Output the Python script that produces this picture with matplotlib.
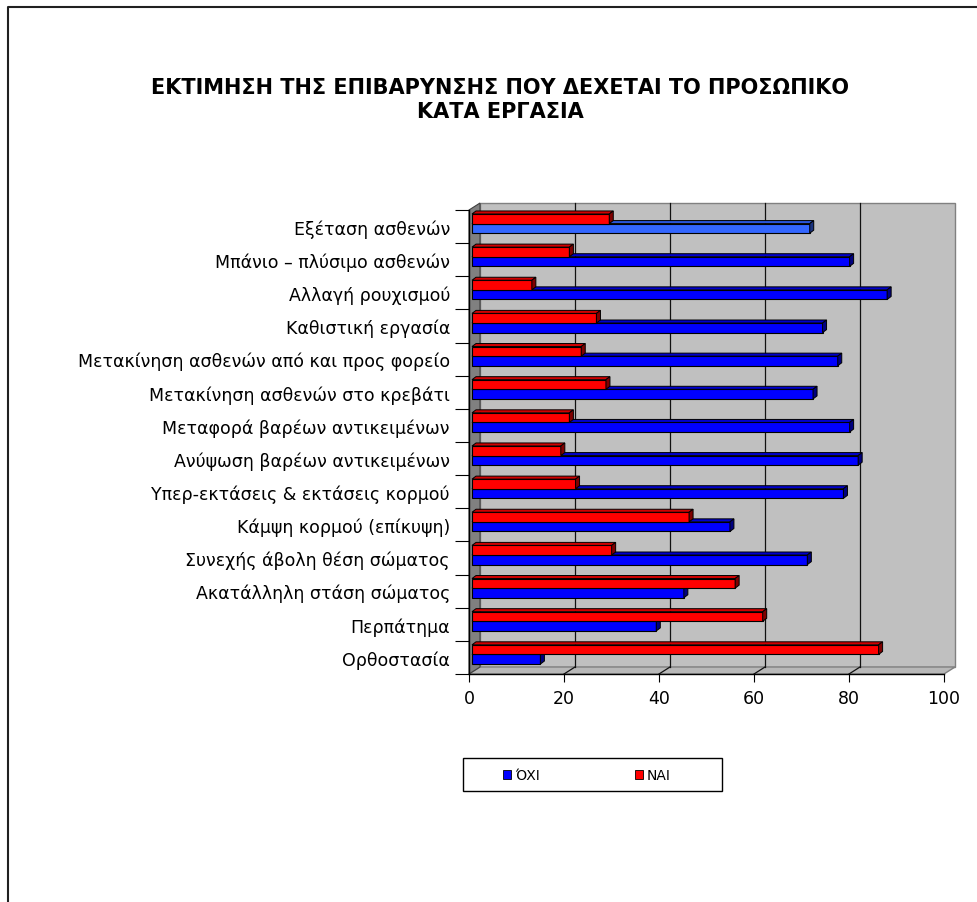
import numpy as np
import matplotlib.pyplot as plt
import matplotlib.patches as mpatches
import matplotlib.transforms as mtransforms
from matplotlib.lines import Line2D

# ---- data ----
categories = [
    "Εξέταση ασθενών",
    "Μπάνιο – πλύσιμο ασθενών",
    "Αλλαγή ρουχισμού",
    "Καθιστική εργασία",
    "Μετακίνηση ασθενών από και προς φορείο",
    "Μετακίνηση ασθενών στο κρεβάτι",
    "Μεταφορά βαρέων αντικειμένων",
    "Ανύψωση βαρέων αντικειμένων",
    "Υπερ-εκτάσεις & εκτάσεις κορμού",
    "Κάμψη κορμού (επίκυψη)",
    "Συνεχής άβολη θέση σώματος",
    "Ακατάλληλη στάση σώματος",
    "Περπάτημα",
    "Ορθοστασία",
]
oxi = [71.1, 79.5, 87.4, 73.8, 77.0, 71.8, 79.5, 81.3, 78.2, 54.3, 70.6, 44.6, 38.8, 14.4]
nai = [28.9, 20.5, 12.6, 26.2, 23.0, 28.2, 20.5, 18.7, 21.8, 45.7, 29.4, 55.4, 61.2, 85.6]
series_names = ["ΌΧΙ", "ΝΑΙ"]
x_ticks = [0, 20, 40, 60, 80, 100]

plt.rcParams['font.family'] = ['DejaVu Sans']

W, H = 977, 903
fig = plt.figure(figsize=(W / 100, H / 100), dpi=100)

# front plane of the pseudo-3D plot area, in pixels
ax_l, ax_r, ax_t, ax_b = 469, 944, 211, 675
ax = fig.add_axes([ax_l / W, 1 - ax_b / H, (ax_r - ax_l) / W, (ax_b - ax_t) / H])
n = len(categories)
ax.set_xlim(0, 100)
ax.set_ylim(-0.5, n - 0.5)
ax.set_facecolor('none')

pxx = (ax_r - ax_l) / 100.0      # pixels per x unit
pxy = (ax_b - ax_t) / float(n)   # pixels per category

# depth offsets (pixels, y up)
back_dx, back_dy = 11, 7
bar_dx, bar_dy = 3, 3
depth_dx, depth_dy = 4, 3

bkx, bky = back_dx / pxx, back_dy / pxy

# walls
ax.add_patch(mpatches.Rectangle((bkx, -0.5 + bky), 100, n, fc='#C0C0C0', ec='#808080',
                                lw=1, zorder=0, clip_on=False))
ax.add_patch(mpatches.Polygon([(0, -0.5), (100, -0.5), (100 + bkx, -0.5 + bky), (bkx, -0.5 + bky)],
                              closed=True, fc='#B8B8B8', ec='#808080', lw=1, zorder=0.5, clip_on=False))
ax.add_patch(mpatches.Polygon([(0, -0.5), (0, n - 0.5), (bkx, n - 0.5 + bky), (bkx, -0.5 + bky)],
                              closed=True, fc='#808080', ec='#404040', lw=0.8, zorder=1, clip_on=False))
for v in x_ticks[1:-1]:
    ax.plot([v + bkx, v + bkx], [-0.5 + bky, n - 0.5 + bky], color='#111111', lw=0.9,
            zorder=1.5, clip_on=False)
    ax.plot([v, v + bkx], [-0.5, -0.5 + bky], color='#111111', lw=0.9, zorder=1.5, clip_on=False)

# bars
ypos = np.arange(n)[::-1]
h = 0.29
shift = ax.transData + mtransforms.ScaledTranslation(bar_dx / 100, bar_dy / 100, fig.dpi_scale_trans)

oxi_colors = ['#3366FF'] + ['#0000FF'] * (n - 1)
oxi_top = ['#2A55D8'] + ['#0000CC'] * (n - 1)
oxi_side = ['#1A3380'] + ['#000080'] * (n - 1)
nai_colors = ['#FF0000'] * n
nai_top = ['#D00000'] * n
nai_side = ['#800000'] * n

def draw_series(yc, vals, fcs, tops, sides, z):
    bars = ax.barh(yc, vals, height=h, color=fcs, edgecolor='black', linewidth=0.8, zorder=z)
    ox, oy = bar_dx / pxx, bar_dy / pxy
    ddx, ddy = depth_dx / pxx, depth_dy / pxy
    for p, tc, sc in zip(bars.patches, tops, sides):
        p.set_transform(shift)
        p.set_clip_on(False)
        x1 = p.get_width()
        yb = p.get_y()
        yt = yb + p.get_height()
        top = [(ox, yt + oy), (x1 + ox, yt + oy), (x1 + ox + ddx, yt + oy + ddy), (ox + ddx, yt + oy + ddy)]
        side = [(x1 + ox, yb + oy), (x1 + ox, yt + oy), (x1 + ox + ddx, yt + oy + ddy), (x1 + ox + ddx, yb + oy + ddy)]
        ax.add_patch(mpatches.Polygon(top, closed=True, fc=tc, ec='black', lw=0.7, zorder=z + 0.1, clip_on=False))
        ax.add_patch(mpatches.Polygon(side, closed=True, fc=sc, ec='black', lw=0.7, zorder=z + 0.1, clip_on=False))
    return bars

draw_series(ypos - h / 2, oxi, oxi_colors, oxi_top, oxi_side, 3)
draw_series(ypos + h / 2, nai, nai_colors, nai_top, nai_side, 4)

# axes lines and ticks
for s in ['top', 'right']:
    ax.spines[s].set_visible(False)
for s in ['left', 'bottom']:
    ax.spines[s].set_color('black')
    ax.spines[s].set_linewidth(1)
    ax.spines[s].set_zorder(2.5)

ax.set_yticks(np.arange(-0.5, n, 1))
ax.set_yticklabels([])
ax.tick_params(axis='y', which='major', length=10.1, width=0.8, direction='out', color='black')
ax.set_yticks(ypos, minor=True)
ax.set_yticklabels(categories, minor=True)
ax.tick_params(axis='y', which='minor', length=0, pad=13.7, labelsize=12.5)

ax.set_xticks(x_ticks)
ax.tick_params(axis='x', length=5.8, width=0.8, direction='out', pad=5, labelsize=12.5)

# title
fig.text(500 / W, 1 - 100 / H,
         "ΕΚΤΙΜΗΣΗ ΤΗΣ ΕΠΙΒΑΡΥΝΣΗΣ ΠΟΥ ΔΕΧΕΤΑΙ ΤΟ ΠΡΟΣΩΠΙΚΟ\nΚΑΤΑ ΕΡΓΑΣΙΑ",
         ha='center', va='center', fontsize=15, fontweight='bold', linespacing=1.25)

# legend
handles = [mpatches.Patch(fc='#0000FF', ec='black', lw=0.6, label=series_names[0]),
           mpatches.Patch(fc='#FF0000', ec='black', lw=0.6, label=series_names[1])]
fig.legend(handles=handles, loc='center left', bbox_to_anchor=(503 / W, 1 - 776 / H), ncol=2,
           frameon=False, fontsize=10, handlelength=0.6, handleheight=0.6, handletextpad=0.25,
           columnspacing=6.85, borderpad=0, borderaxespad=0)
fig.add_artist(mpatches.Rectangle((463 / W, 1 - 792 / H), 259 / W, 33 / H, transform=fig.transFigure,
                                  fill=False, ec='black', lw=1))

# outer frame (top and left edges visible)
fig.add_artist(Line2D([8 / W, 8 / W, 1], [0, 1 - 8 / H, 1 - 8 / H], transform=fig.transFigure,
                      color='#202020', lw=1.5))

fig.savefig("out.png", dpi=100)
